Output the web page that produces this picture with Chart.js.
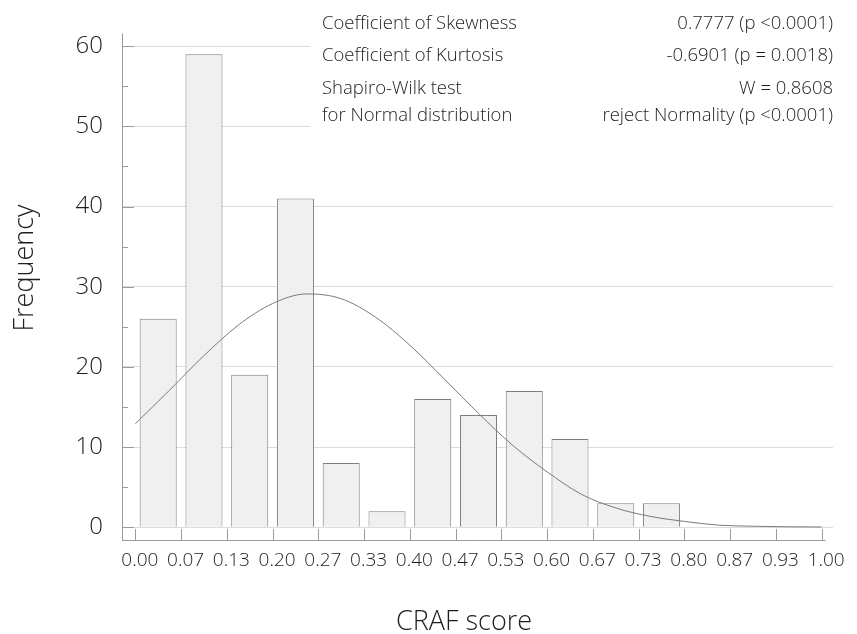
<!DOCTYPE html>
<html>
<head>
<meta charset="utf-8">
<script src="https://cdn.jsdelivr.net/npm/chart.js@4.4.1/dist/chart.umd.min.js"></script>
<style>
  html, body { margin: 0; padding: 0; background: #fff; }
  #wrap { width: 857px; height: 634px; }
</style>
</head>
<body>
<div id="wrap"><canvas id="histo"></canvas></div>
<script>
// histogram bins (centre of each bin) and counts
const binCenters = [0.0333, 0.1, 0.1667, 0.2333, 0.3, 0.3667, 0.4333, 0.5, 0.5667, 0.6333, 0.7, 0.7667];
const frequencies = [26, 59, 19, 41, 8, 2, 16, 14, 17, 11, 3, 3];

// fitted normal curve
const curveX = [0, 0.05, 0.1, 0.15, 0.2, 0.25, 0.3, 0.35, 0.4, 0.45, 0.5, 0.55, 0.6, 0.65, 0.7, 0.75, 0.8, 0.85, 0.9, 0.95, 1.0];
const curveY = [12.9, 17.1, 21.4, 25.2, 27.9, 29.1, 28.5, 26.2, 22.7, 18.5, 14.2, 10.2, 6.9, 4.1, 2.4, 1.35, 0.72, 0.25, 0.12, 0.05, 0.02];

const xTickLabels = ['0.00', '0.07', '0.13', '0.20', '0.27', '0.33', '0.40', '0.47', '0.53', '0.60', '0.67', '0.73', '0.80', '0.87', '0.93', '1.00'];
const yTicks = [0, 5, 10, 15, 20, 25, 30, 35, 40, 45, 50, 55, 60];

const statNames = ['Coefficient of Skewness', 'Coefficient of Kurtosis', 'Shapiro-Wilk test', 'for Normal distribution'];
const statValues = ['0.7777 (p <0.0001)', '-0.6901 (p = 0.0018)', 'W = 0.8608', 'reject Normality (p <0.0001)'];

const FONT = '"Open Sans", "Noto Sans", sans-serif';
const AXIS_GREY = '#9a9a9a';
const TEXT = '#1e1e1e';

const decorations = {
  id: 'decorations',
  beforeDatasetsDraw(chart) {
    const ctx = chart.ctx;
    // white panel behind the statistics text hides the upper grid lines
    ctx.save();
    ctx.fillStyle = '#fff';
    ctx.fillRect(310, 0, 547, 132);
    ctx.restore();
  },
  afterDraw(chart) {
    const { ctx, chartArea: a, scales: { x, y } } = chart;
    ctx.save();
    ctx.strokeStyle = AXIS_GREY;
    ctx.lineWidth = 1;

    // y axis line + inward ticks
    ctx.beginPath();
    ctx.moveTo(a.left + 0.5, a.top);
    ctx.lineTo(a.left + 0.5, a.bottom);
    yTicks.forEach(v => {
      const py = Math.round(y.getPixelForValue(v)) + 0.5;
      ctx.moveTo(a.left, py);
      ctx.lineTo(a.left + (v % 10 === 0 ? 12 : 6), py);
    });
    // x axis line + inward ticks
    const xEnd = x.getPixelForValue(1) + 4;
    ctx.moveTo(a.left, a.bottom + 0.5);
    ctx.lineTo(xEnd, a.bottom + 0.5);
    xTickLabels.forEach((lab, i) => {
      const px = Math.round(x.getPixelForValue(i / (xTickLabels.length - 1))) + 0.5;
      ctx.moveTo(px, a.bottom);
      ctx.lineTo(px, a.bottom - 11);
    });
    ctx.stroke();

    // statistics text
    ctx.fillStyle = TEXT;
    ctx.font = '300 18.5px ' + FONT;
    const baselines = [29, 61, 94, 121];
    statNames.forEach((s, i) => {
      ctx.textAlign = 'left';
      ctx.fillText(s, 322, baselines[i]);
      ctx.textAlign = 'right';
      ctx.fillText(statValues[i], 833, baselines[i]);
    });

    // axis titles
    ctx.font = '300 27px ' + FONT;
    ctx.textAlign = 'center';
    ctx.fillText('CRAF score', 464, 630);
    ctx.translate(25, 268);
    ctx.rotate(-Math.PI / 2);
    ctx.textBaseline = 'middle';
    ctx.fillText('Frequency', 0, 0);
    ctx.restore();
  }
};

new Chart(document.getElementById('histo'), {
  type: 'bar',
  data: {
    datasets: [
      {
        type: 'line',
        data: curveX.map((v, i) => ({ x: v, y: curveY[i] })),
        borderColor: '#7a7a7a',
        borderWidth: 1,
        pointRadius: 0,
        cubicInterpolationMode: 'monotone',
        order: 0
      },
      {
        type: 'bar',
        data: binCenters.map((v, i) => ({ x: v, y: frequencies[i] })),
        backgroundColor: '#f0f0f0',
        borderColor: '#7f7f7f',
        borderWidth: 1,
        barPercentage: 0.81,
        categoryPercentage: 1,
        order: 1
      }
    ]
  },
  options: {
    responsive: true,
    maintainAspectRatio: false,
    devicePixelRatio: 1,
    animation: false,
    layout: { padding: { top: 28, right: 24, left: 0, bottom: 0 } },
    plugins: { legend: { display: false }, tooltip: { enabled: false } },
    scales: {
      x: {
        type: 'linear',
        min: -0.0194,
        max: 1.0165,
        offset: false,
        grid: { display: false, drawTicks: false, offset: false },
        border: { display: false },
        afterBuildTicks: s => { s.ticks = xTickLabels.map((l, i) => ({ value: i / (xTickLabels.length - 1) })); },
        afterFit: s => { s.height = 94; },
        ticks: {
          autoSkip: false,
          maxRotation: 0,
          padding: 9,
          labelOffset: 4.5,
          color: TEXT,
          font: { family: FONT, size: 19, weight: '300' },
          callback: (v, i) => xTickLabels[i]
        }
      },
      y: {
        min: -1.6,
        max: 61.6,
        grid: {
          drawTicks: false,
          color: ctx => (ctx.tick && ctx.tick.value % 10 === 0 ? '#dcdcdc' : 'rgba(0,0,0,0)')
        },
        border: { display: false },
        afterBuildTicks: s => { s.ticks = yTicks.map(v => ({ value: v })); },
        afterFit: s => { s.width = 122; },
        ticks: {
          padding: 19,
          color: TEXT,
          font: { family: FONT, size: 24, weight: '300' },
          callback: v => (v % 10 === 0 ? String(v) : '')
        }
      }
    }
  },
  plugins: [decorations]
});
</script>
</body>
</html>
